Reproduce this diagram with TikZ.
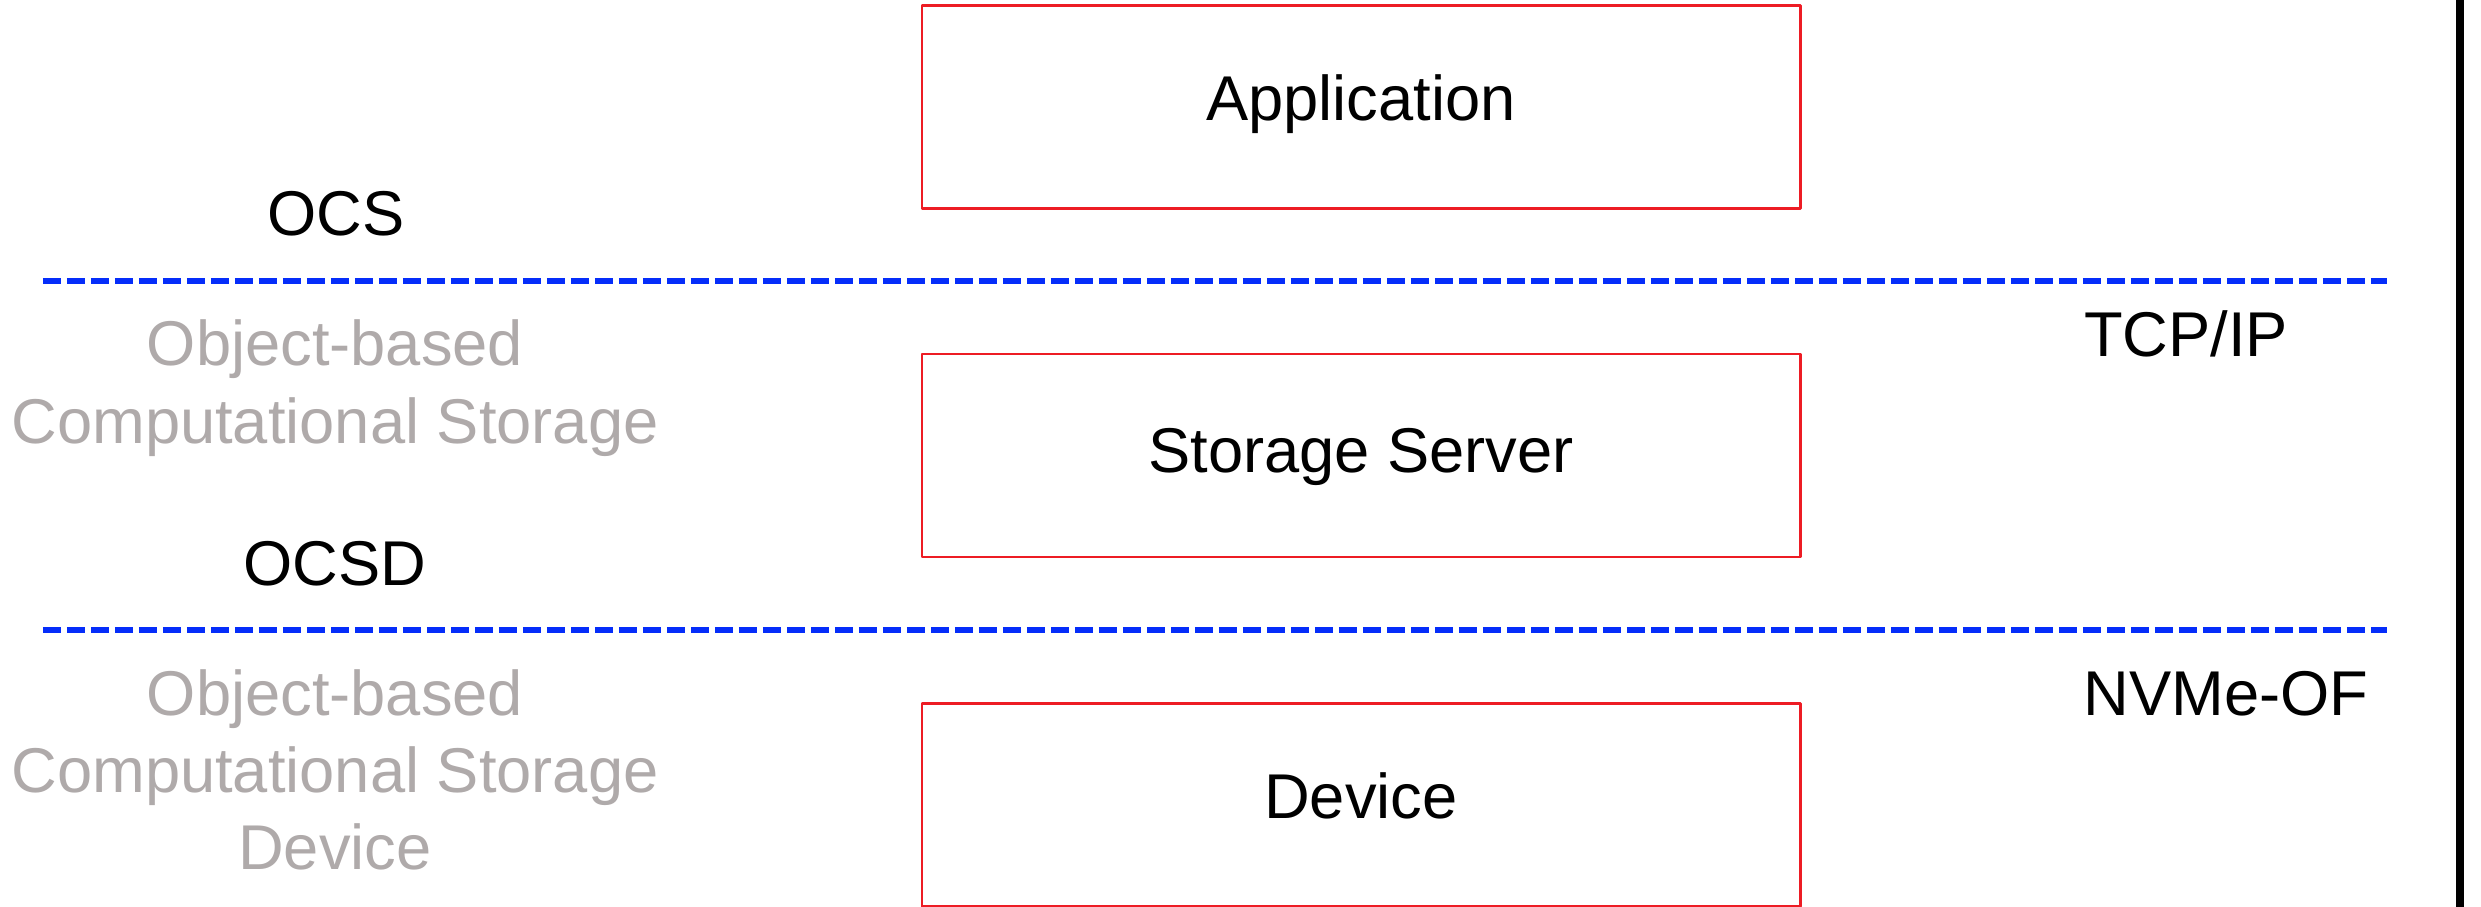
\documentclass[tikz,border=0pt]{standalone}
\usepackage{fontspec}
\setmainfont{Liberation Sans}
\definecolor{boxred}{RGB}{237,28,36}
\definecolor{lineblue}{RGB}{5,45,250}
\definecolor{textgrey}{RGB}{175,170,170}
\begin{document}
\begin{tikzpicture}[font=\fontsize{18}{22}\selectfont, line join=round,
	layerbox/.style={draw=boxred, line width=0.85pt, minimum width=8.78cm, minimum height=2.03cm, inner sep=0pt, text height=0.74em, text depth=0pt},
	protolabel/.style={inner sep=0pt, text height=0.716em, text depth=0pt},
	roletext/.style={inner sep=0pt, align=center, text=textgrey},
	splitline/.style={draw=lineblue, line width=0.06cm, dash pattern=on 0.18cm off 0.06cm}]
	\useasboundingbox (0,0) rectangle (24.81,-9.07);
	
	\coordinate (L1) at (0.43,-2.81);
	\coordinate (R1) at (23.87,-2.81);
	\coordinate (L2) at (0.43,-6.30);
	\coordinate (R2) at (23.87,-6.30);
	\coordinate (T) at (24.60,0);
	\coordinate (U) at (24.60,-9.07);
	
	\draw[splitline] (L1)--(R1);
	\draw[splitline] (L2)--(R2);
	\draw[line width=0.08cm] (T)--(U);
	
	\node[layerbox] (app) at (13.61,-1.07) {Application};
	\node[layerbox, text height=0.98em] (server) at (13.61,-4.555) {Storage Server};
	\node[layerbox] (device) at (13.61,-8.05) {Device};
	
	\node[protolabel] (ocs) at (3.36,-2.23) {OCS};
	\node[protolabel] (ocsd) at (3.35,-5.73) {OCSD};
	\node[protolabel] (tcp) at (21.86,-3.44) {TCP/IP};
	\node[protolabel] (nvme) at (22.26,-7.03) {NVMe-OF};
	
	\node[roletext] (ocsname) at (3.35,-3.88) {Object-based\\Computational Storage};
	\node[roletext] (ocsdname) at (3.35,-7.70) {Object-based\\Computational Storage\\Device};
\end{tikzpicture}
\end{document}
